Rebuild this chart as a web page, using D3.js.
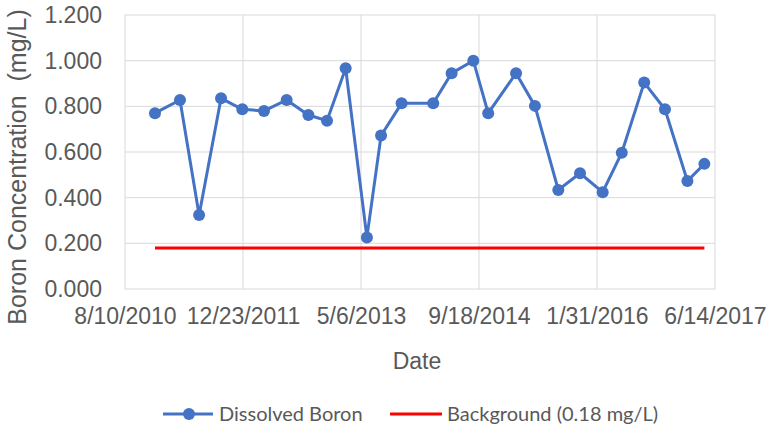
<!DOCTYPE html>
<html lang="en">
    <head>
        <meta charset="utf-8">
        <title>Dissolved Boron</title>
        <script type="text/javascript" src="https://cdn.jsdelivr.net/npm/d3@7"></script>
        <style>
          body { margin: 0; background: #fff; }
        </style>
    </head>
    <body>
        <script type="text/javascript">
          // Sample dates and dissolved boron values (mg/L)
          var dates = ["2010-12-15", "2011-03-31", "2011-06-20", "2011-09-21", "2011-12-20",
                       "2012-03-21", "2012-06-25", "2012-09-25", "2012-12-13", "2013-03-02",
                       "2013-05-31", "2013-07-30", "2013-10-25", "2014-03-08", "2014-05-25",
                       "2014-08-25", "2014-10-27", "2015-02-22", "2015-05-13", "2015-08-20",
                       "2015-11-20", "2016-02-24", "2016-05-15", "2016-08-18", "2016-11-14",
                       "2017-02-17", "2017-04-30"];
          var boron = [0.770, 0.828, 0.324, 0.835, 0.787,
                       0.780, 0.828, 0.762, 0.737, 0.967,
                       0.226, 0.672, 0.813, 0.813, 0.945,
                       1.000, 0.770, 0.945, 0.802, 0.434,
                       0.507, 0.424, 0.597, 0.904, 0.787,
                       0.473, 0.548];
          var background = 0.18;
          var xTickLabels = ["8/10/2010", "12/23/2011", "5/6/2013", "9/18/2014", "1/31/2016", "6/14/2017"];
          var yTicks = [0, 0.2, 0.4, 0.6, 0.8, 1.0, 1.2];

          var w = 769;
          var h = 433;
          var padLeft = 125, padRight = 715, padTop = 15, padBottom = 289;
          var textColor = "#595959";
          var axisFont = "23px 'Liberation Sans', Arial, sans-serif";
          var legendFont = "20px Lato, 'Open Sans', sans-serif";

          var parseDate = d3.timeParse("%Y-%m-%d");
          var parseTick = d3.timeParse("%m/%d/%Y");
          var tickDates = xTickLabels.map(function(s) { return parseTick(s); });

          var points = dates.map(function(d, i) {
            return { date: parseDate(d), value: boron[i] };
          });

          var svg = d3.select("body").append("svg")
                      .attr("width", w)
                      .attr("height", h);

          var xScale = d3.scaleTime()
                  .domain([tickDates[0], tickDates[tickDates.length - 1]])
                  .range([padLeft, padRight]);

          var yScale = d3.scaleLinear()
                  .domain([0, 1.2])
                  .range([padBottom, padTop]);

          // Gridlines
          svg.append("g")
             .selectAll("line")
             .data(yTicks)
             .enter()
             .append("line")
             .attr("x1", padLeft)
             .attr("x2", padRight)
             .attr("y1", function(d) { return yScale(d); })
             .attr("y2", function(d) { return yScale(d); })
             .attr("stroke", "#d9d9d9")
             .attr("stroke-width", 1);

          svg.append("g")
             .selectAll("line")
             .data(tickDates)
             .enter()
             .append("line")
             .attr("x1", function(d) { return xScale(d); })
             .attr("x2", function(d) { return xScale(d); })
             .attr("y1", padTop)
             .attr("y2", padBottom)
             .attr("stroke", "#d9d9d9")
             .attr("stroke-width", 1);

          // y-axis
          var yAxis = d3.axisLeft(yScale)
                        .tickValues(yTicks)
                        .tickFormat(d3.format(".3f"))
                        .tickSize(0)
                        .tickPadding(23);
          var gy = svg.append("g")
                  .attr("transform", "translate(" + padLeft + ",0)")
                  .call(yAxis);
          gy.select(".domain").remove();
          gy.selectAll("text")
            .style("font", axisFont)
            .attr("fill", textColor);

          // x-axis
          var xAxis = d3.axisBottom(xScale)
                        .tickValues(tickDates)
                        .tickFormat(function(d, i) { return xTickLabels[i]; })
                        .tickSize(0)
                        .tickPadding(19);
          var gx = svg.append("g")
                  .attr("transform", "translate(0," + padBottom + ")")
                  .call(xAxis);
          gx.select(".domain").remove();
          gx.selectAll("text")
            .style("font", axisFont)
            .attr("fill", textColor);

          // Axis titles
          svg.append("text")
             .attr("transform", "rotate(-90)")
             .attr("x", -167)
             .attr("y", 26)
             .attr("text-anchor", "middle")
             .style("font", "25px 'Liberation Sans', Arial, sans-serif")
             .style("white-space", "pre")
             .attr("fill", textColor)
             .text("Boron Concentration  (mg/L)");

          svg.append("text")
             .attr("x", 417)
             .attr("y", 369)
             .attr("text-anchor", "middle")
             .style("font", axisFont)
             .attr("fill", textColor)
             .text("Date");

          // Background line
          svg.append("line")
             .attr("x1", xScale(points[0].date))
             .attr("x2", xScale(points[points.length - 1].date))
             .attr("y1", yScale(background))
             .attr("y2", yScale(background))
             .attr("stroke", "#ff0000")
             .attr("stroke-width", 3);

          // Boron series
          var line = d3.line()
                       .x(function(d) { return xScale(d.date); })
                       .y(function(d) { return yScale(d.value); });

          svg.append("path")
             .datum(points)
             .attr("d", line)
             .attr("fill", "none")
             .attr("stroke", "#4472c4")
             .attr("stroke-width", 3);

          svg.append("g")
             .selectAll("circle")
             .data(points)
             .enter()
             .append("circle")
             .attr("cx", function(d) { return xScale(d.date); })
             .attr("cy", function(d) { return yScale(d.value); })
             .attr("r", 6)
             .attr("fill", "#4472c4");

          // Legend
          var legend = svg.append("g").attr("transform", "translate(0,414)");
          legend.append("line")
                .attr("x1", 163).attr("x2", 213)
                .attr("stroke", "#4472c4").attr("stroke-width", 3);
          legend.append("circle")
                .attr("cx", 189).attr("r", 6)
                .attr("fill", "#4472c4");
          legend.append("text")
                .attr("x", 219).attr("y", 7)
                .style("font", legendFont)
                .attr("fill", textColor)
                .text("Dissolved Boron");
          legend.append("line")
                .attr("x1", 390).attr("x2", 442)
                .attr("stroke", "#ff0000").attr("stroke-width", 3);
          legend.append("text")
                .attr("x", 447).attr("y", 7)
                .style("font", legendFont)
                .attr("fill", textColor)
                .text("Background (0.18 mg/L)");
        </script>
    </body>
</html>
